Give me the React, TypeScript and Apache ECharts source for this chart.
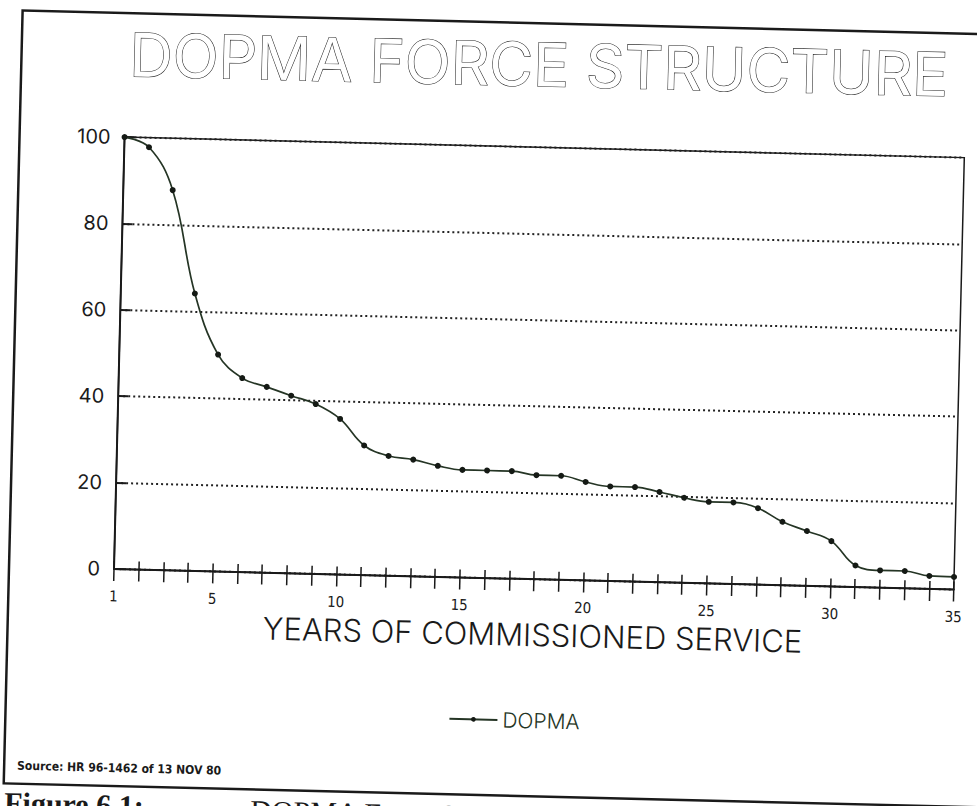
import React, { useEffect, useRef } from "react";
import * as echarts from "echarts";

const years = [1, 2, 3, 4, 5, 6, 7, 8, 9, 10, 11, 12, 13, 14, 15, 16, 17, 18, 19, 20, 21, 22, 23, 24, 25, 26, 27, 28, 29, 30, 31, 32, 33, 34, 35];
const dopmaPercent = [100, 97.8, 88, 64.2, 50.2, 44.9, 43, 41.1, 39.3, 36, 30, 27.7, 27, 25.7, 24.9, 24.9, 24.9, 24.1, 24.1, 22.8, 21.9, 21.9, 20.9, 19.7, 18.9, 18.9, 17.7, 14.7, 12.7, 10.5, 5, 4, 4, 3, 2.9];
const xLabelYears = [1, 5, 10, 15, 20, 25, 30, 35];
const chartTitle = "DOPMA FORCE STRUCTURE";
const xAxisTitle = "YEARS OF COMMISSIONED SERVICE";
const seriesName = "DOPMA";
const sourceNote = "Source: HR 96-1462 of 13 NOV 80";
const figureLabel = "Figure 6.1:";
const figureCaption = "DOPMA Force Structure";

const INK = "#1a1a1a";

export default function App() {
  const ref = useRef<HTMLDivElement>(null);
  useEffect(() => {
    document.body.style.margin = "0";
    document.body.style.overflow = "hidden";
    const chart = echarts.init(ref.current!, null, { renderer: "svg" });
    chart.setOption({
      animation: false,
      backgroundColor: "#ffffff",
      title: {
        text: chartTitle,
        left: 112,
        top: 19,
        textStyle: {
          fontSize: 60,
          fontFamily: "Inter",
          fontWeight: 400,
          color: "#ffffff",
          textBorderColor: INK,
          textBorderWidth: 1.1,
        },
      },
      legend: {
        data: [seriesName],
        left: 447,
        top: 695,
        itemWidth: 48,
        itemHeight: 6,
        textStyle: { fontSize: 21, fontFamily: "Inter", fontWeight: 300, color: "#253525" },
      },
      grid: { left: 114, top: 137, width: 840, height: 432, show: true, borderColor: INK, borderWidth: 1.5, backgroundColor: "transparent" },
      xAxis: [
        {
          type: "value",
          min: 1,
          max: 35,
          interval: 1,
          position: "bottom",
          axisLine: { show: true, lineStyle: { color: INK, width: 2 } },
          axisTick: { show: true, inside: false, length: 12, lineStyle: { color: INK, width: 1.5 } },
          axisLabel: { customValues: xLabelYears, margin: 20, fontSize: 15, fontFamily: "DejaVu Sans Condensed", color: INK },
          splitLine: { show: false },
          name: xAxisTitle,
          nameLocation: "middle",
          nameGap: 33,
          nameTextStyle: { fontSize: 31, fontFamily: "Inter", fontWeight: 300, color: INK },
        },
        {
          type: "value",
          min: 1,
          max: 35,
          interval: 1,
          position: "bottom",
          axisLine: { show: false },
          axisTick: { show: true, inside: true, length: 8, lineStyle: { color: INK, width: 1.5 } },
          axisLabel: { show: false },
          splitLine: { show: false },
        },
      ],
      yAxis: {
        type: "value",
        min: 0,
        max: 100,
        interval: 20,
        axisLine: { show: true, lineStyle: { color: INK, width: 2 } },
        axisTick: { show: true, inside: true, length: 10, lineStyle: { color: INK, width: 2 } },
        axisLabel: { margin: 14, fontSize: 20, fontFamily: "Inter", color: INK },
        splitLine: { show: true, lineStyle: { type: [2, 3], color: "#222", width: 2 } },
      },
      series: [
        {
          name: seriesName,
          type: "line",
          xAxisIndex: 0,
          data: years.map((y, i) => [y, dopmaPercent[i]]),
          smooth: 0.4,
          symbol: "circle",
          symbolSize: 6,
          showSymbol: true,
          itemStyle: { color: "#151a15" },
          lineStyle: { color: "#253525", width: 1.7 },
        },
      ],
      graphic: [
        {
          type: "rect",
          silent: true,
          z: -10,
          shape: { x: 9, y: 13, width: 1100, height: 773 },
          style: { fill: "none", stroke: INK, lineWidth: 2.5 },
        },
        {
          type: "text",
          x: 22,
          y: 768,
          style: { text: sourceNote, fontSize: 12, fontWeight: "bold", fontFamily: "DejaVu Sans Condensed", fill: INK, verticalAlign: "middle" },
        },
        {
          type: "text",
          x: 10,
          y: 790,
          style: { text: figureLabel, fontSize: 30, fontWeight: "bold", fontFamily: "Liberation Serif", fill: INK, verticalAlign: "top" },
        },
        {
          type: "text",
          x: 256,
          y: 792,
          style: { text: figureCaption, fontSize: 30, fontFamily: "Liberation Serif", fill: INK, verticalAlign: "top" },
        },
      ],
    });
    return () => chart.dispose();
  }, []);
  return (
    <div style={{ position: "fixed", left: 0, top: 0, width: 977, height: 806, overflow: "hidden", background: "#fff" }}>
      <div
        ref={ref}
        style={{ position: "absolute", left: 0, top: 0, width: 1000, height: 830, transform: "rotate(1.4deg)", transformOrigin: "115px 569px", background: "#fff" }}
      />
    </div>
  );
}
